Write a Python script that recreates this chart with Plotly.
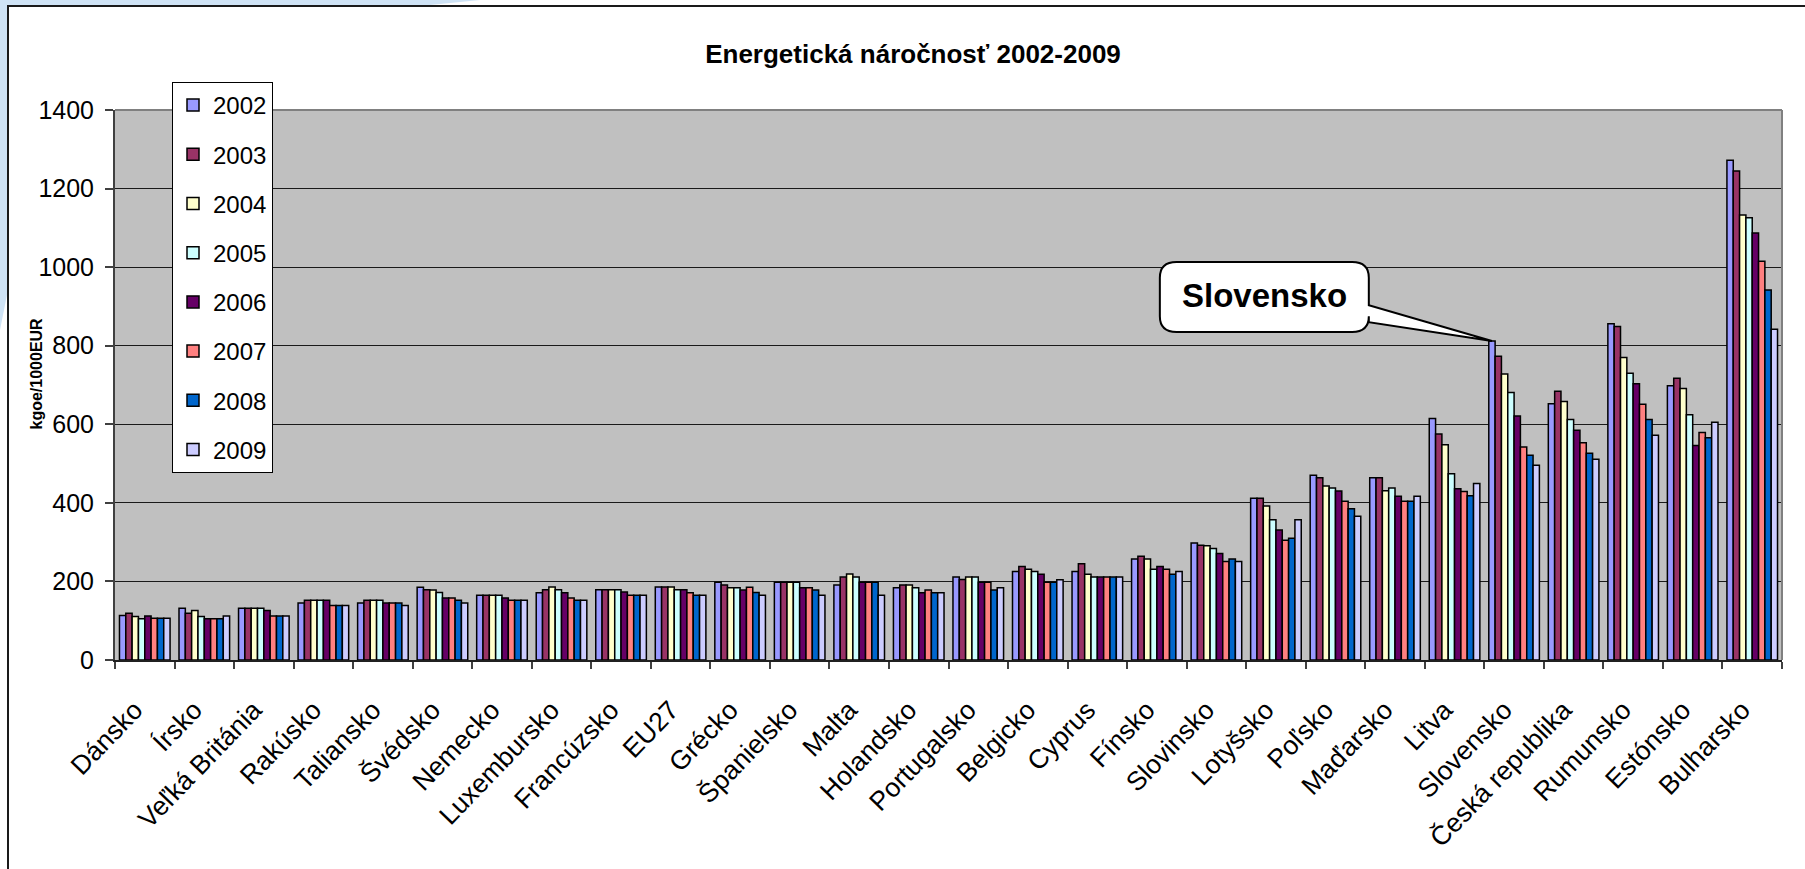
import plotly.graph_objects as go

categories = ["Dánsko", "Írsko", "Veľká Británia", "Rakúsko", "Taliansko", "Švédsko",
              "Nemecko", "Luxembursko", "Francúzsko", "EU27", "Grécko", "Španielsko",
              "Malta", "Holandsko", "Portugalsko", "Belgicko", "Cyprus", "Fínsko",
              "Slovinsko", "Lotyšsko", "Poľsko", "Maďarsko", "Litva", "Slovensko",
              "Česká republika", "Rumunsko", "Estónsko", "Bulharsko"]

years = ["2002", "2003", "2004", "2005", "2006", "2007", "2008", "2009"]

v2002 = [113, 132, 132, 145, 145, 185, 165, 171, 179, 186, 198, 198, 191, 184, 211, 225, 225, 257, 298, 412, 470, 464, 615, 812, 652, 856, 698, 1272]
v2003 = [119, 119, 132, 152, 152, 179, 165, 179, 179, 186, 191, 198, 211, 191, 205, 238, 245, 264, 292, 412, 464, 464, 575, 773, 684, 849, 717, 1245]
v2004 = [111, 126, 132, 152, 152, 178, 165, 186, 179, 186, 184, 198, 219, 191, 211, 231, 218, 257, 291, 392, 443, 431, 548, 728, 658, 770, 691, 1133]
v2005 = [105, 111, 132, 152, 152, 172, 165, 179, 179, 179, 184, 198, 211, 184, 211, 225, 211, 231, 284, 357, 438, 438, 474, 681, 612, 730, 624, 1126]
v2006 = [112, 105, 126, 152, 145, 158, 158, 171, 173, 179, 178, 184, 198, 171, 198, 218, 211, 238, 271, 331, 430, 417, 436, 621, 585, 703, 546, 1087]
v2007 = [106, 105, 112, 139, 145, 158, 152, 158, 165, 171, 185, 184, 198, 178, 198, 198, 211, 231, 251, 305, 404, 404, 429, 542, 553, 651, 579, 1015]
v2008 = [106, 105, 112, 139, 145, 152, 152, 152, 165, 165, 172, 178, 198, 171, 178, 198, 211, 218, 257, 310, 385, 404, 418, 521, 526, 612, 566, 942]
v2009 = [106, 112, 112, 139, 139, 145, 152, 152, 165, 165, 165, 165, 165, 171, 184, 204, 211, 225, 251, 357, 366, 417, 449, 496, 511, 572, 605, 842]

series = [v2002, v2003, v2004, v2005, v2006, v2007, v2008, v2009]
colors = ["#9999FF", "#993366", "#FFFFCC", "#CCFFFF", "#660066", "#FF8080", "#0066CC", "#CCCCFF"]

title_text = "Energetická náročnosť 2002-2009"
y_title = "kgoe/1000EUR"
callout_text = "Slovensko"

W, H = 1805, 869
ML, MR, MT, MB = 115, 23, 110, 209
PW, PH = W - ML - MR, H - MT - MB
BARGAP = 0.15
FONT = "Liberation Sans, Arial, sans-serif"


def xp(px):
    return (px - ML) / PW


def yp(py):
    return (H - MB - py) / PH


fig = go.Figure()
for yr, vals, col in zip(years, series, colors):
    fig.add_trace(go.Bar(
        name=yr, x=categories, y=vals, legendgroup=yr,
        marker=dict(color=col, line=dict(color="#000000", width=1.5)),
    ))

# Page decoration: light blue swoosh outside the chart frame
swoosh = [(0, 0), (480, 0), (420, 6), (8, 6), (8, 290), (0, 330)]
path = "M " + " L ".join(f"{xp(a):.5f},{yp(b):.5f}" for a, b in swoosh) + " Z"
shapes = [
    dict(type="path", xref="paper", yref="paper", path=path,
         fillcolor="#CFE3F5", line=dict(width=0), layer="below"),
    # chart frame
    dict(type="rect", xref="paper", yref="paper", x0=xp(8), x1=xp(1840), y0=yp(6), y1=yp(900),
         line=dict(color="#1a1a1a", width=2), layer="below"),
    # plot area border (top / right)
    dict(type="line", xref="paper", yref="paper", x0=0, x1=1, y0=1, y1=1,
         line=dict(color="#808080", width=2)),
    dict(type="line", xref="paper", yref="paper", x0=1, x1=1, y0=0, y1=1,
         line=dict(color="#808080", width=2)),
]

# Callout for Slovensko, tip at 2002 bar top
si = categories.index("Slovensko")
gw = 1 - BARGAP
tip_x = si - gw / 2 + gw / 16
tip_y = v2002[si]
bx0, bx1, by0, by1 = 17.05, 20.56, 835, 1013
rx, ry = 0.28, 40
w_hi, w_lo = 903, 860
cpath = (f"M {bx0 + rx},{by1} L {bx1 - rx},{by1} Q {bx1},{by1} {bx1},{by1 - ry} "
         f"L {bx1},{w_hi} L {tip_x},{tip_y} L {bx1},{w_lo} "
         f"L {bx1},{by0 + ry} Q {bx1},{by0} {bx1 - rx},{by0} "
         f"L {bx0 + rx},{by0} Q {bx0},{by0} {bx0},{by0 + ry} "
         f"L {bx0},{by1 - ry} Q {bx0},{by1} {bx0 + rx},{by1} Z")
shapes.append(dict(type="path", xref="x", yref="y", path=cpath,
                   fillcolor="#FFFFFF", line=dict(color="#000000", width=2)))

annotations = [
    dict(text=f"<b>{callout_text}</b>", x=(bx0 + bx1) / 2, y=(by0 + by1) / 2 + 3, xref="x", yref="y",
         showarrow=False, font=dict(family=FONT, size=33, color="#000000")),
    dict(text=f"<b>{y_title}</b>", x=xp(25), y=yp(374), xref="paper", yref="paper",
         showarrow=False, textangle=-90, font=dict(family=FONT, size=16, color="#000000")),
]

fig.update_layout(
    width=W, height=H,
    margin=dict(l=ML, r=MR, t=MT, b=MB, pad=0),
    paper_bgcolor="#FFFFFF",
    plot_bgcolor="#C0C0C0",
    barmode="group", bargap=BARGAP, bargroupgap=0,
    title=dict(text=f"<b>{title_text}</b>", x=xp(913), xanchor="center", xref="paper",
               y=1 - 54 / H, yanchor="middle", yref="container",
               font=dict(family=FONT, size=26, color="#000000")),
    font=dict(family=FONT, color="#000000"),
    legend=dict(x=xp(172), y=yp(82), xanchor="left", yanchor="top",
                bgcolor="#FFFFFF", bordercolor="#000000", borderwidth=1,
                font=dict(family=FONT, size=24, color="#000000"),
                tracegroupgap=15, traceorder="grouped", itemwidth=30),
    shapes=shapes,
    annotations=annotations,
)

fig.update_yaxes(range=[0, 1400], dtick=200, showgrid=True, gridcolor="#1a1a1a", gridwidth=1,
                 showline=True, linecolor="#404040", linewidth=2,
                 ticks="outside", ticklen=8, tickcolor="#404040", tickwidth=1.5,
                 ticklabelstandoff=6,
                 tickfont=dict(family=FONT, size=25, color="#000000"), zeroline=False)
fig.update_xaxes(showline=True, linecolor="#202020", linewidth=2,
                 ticks="outside", tickson="boundaries", ticklen=7, tickcolor="#404040", tickwidth=1.5,
                 tickangle=-46, ticklabelstandoff=22, ticklabelshift=-10,
                 tickfont=dict(family=FONT, size=26.5, color="#000000"))

fig.write_html("out.html", config={"displayModeBar": False},
               post_script="document.body.style.margin='0';document.body.style.overflow='hidden';")
